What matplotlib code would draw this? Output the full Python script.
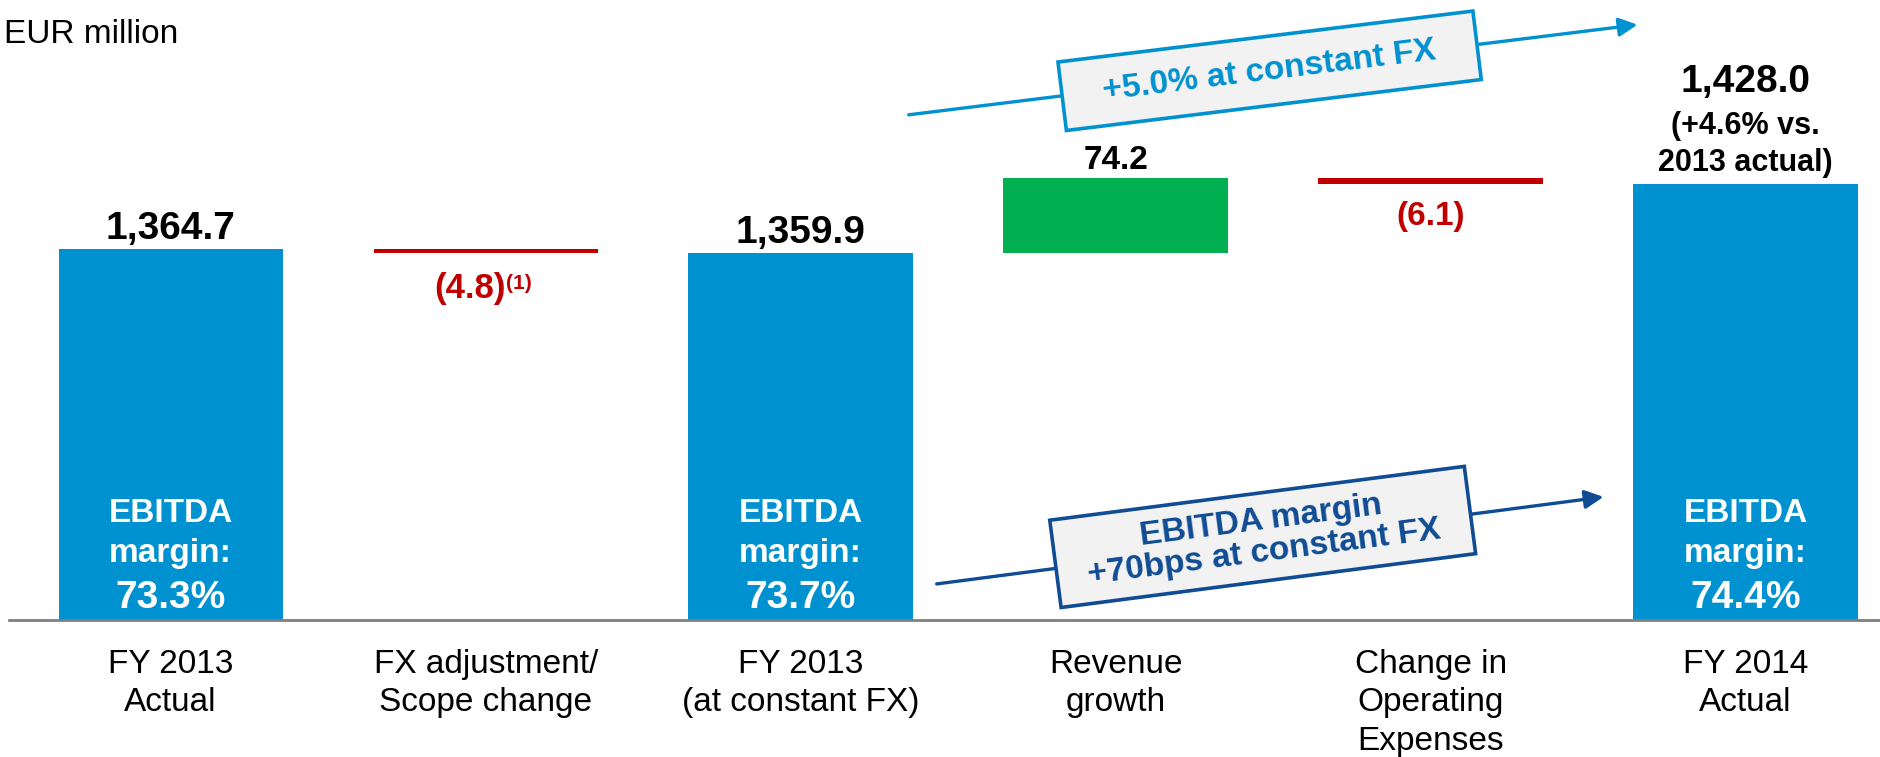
import matplotlib.pyplot as plt
from matplotlib.patches import Rectangle
from matplotlib.transforms import Affine2D, ScaledTranslation

plt.rcParams['font.family'] = ['Liberation Sans', 'DejaVu Sans']

# data
categories = ["FY 2013\nActual", "FX adjustment/\nScope change", "FY 2013\n(at constant FX)",
              "Revenue\ngrowth", "Change in\nOperating\nExpenses", "FY 2014\nActual"]
values = [1364.7, -4.8, 1359.9, 74.2, -6.1, 1428.0]
kinds = ["total", "delta", "total", "delta", "delta", "total"]
value_labels = ["1,364.7", "(4.8)", "1,359.9", "74.2", "(6.1)", "1,428.0"]
margins = ["73.3%", "73.7%", "74.4%"]

BLUE = "#0091D0"
GREEN = "#00B050"
RED = "#C00000"
NAVY = "#0F4C94"

fig = plt.figure(figsize=(18.81, 7.57), dpi=100)
ax = fig.add_axes([0.005, 0.181, 0.995, 0.819])
ymin, ymax = 1001, 1608
ax.set_xlim(-0.512, 5.43)
ax.set_ylim(ymin, ymax)

width = 0.712
running = 0
m = 0
for i, (v, k, lab) in enumerate(zip(values, kinds, value_labels)):
    if k == "total":
        ax.bar(i, v, width=width, color=BLUE, zorder=2)
        running = v
        if i == 5:
            ax.annotate(lab, (i, v), xytext=(0, 92), textcoords="offset pixels",
                        ha="center", va="baseline", fontsize=28, fontweight="bold")
            ax.annotate("(+4.6% vs.", (i, v), xytext=(0, 50), textcoords="offset pixels",
                        ha="center", va="baseline", fontsize=22, fontweight="bold")
            ax.annotate("2013 actual)", (i, v), xytext=(0, 13), textcoords="offset pixels",
                        ha="center", va="baseline", fontsize=22, fontweight="bold")
        else:
            ax.annotate(lab, (i, v), xytext=(0, 10), textcoords="offset pixels",
                        ha="center", va="baseline", fontsize=28, fontweight="bold")
        # margin text inside bar
        ax.annotate("EBITDA", (i, ymin), xytext=(0, 98), textcoords="offset pixels",
                    ha="center", va="baseline", fontsize=24, fontweight="bold", color="white")
        ax.annotate("margin:", (i, ymin), xytext=(0, 58), textcoords="offset pixels",
                    ha="center", va="baseline", fontsize=24, fontweight="bold", color="white")
        ax.annotate(margins[m], (i, ymin), xytext=(0, 12), textcoords="offset pixels",
                    ha="center", va="baseline", fontsize=28, fontweight="bold", color="white")
        m += 1
    else:
        c = GREEN if v > 0 else RED
        ax.bar(i, v, width=width, bottom=running, color=c, zorder=2)
        new = running + v
        if v > 0:
            ax.annotate(lab, (i, new), xytext=(0, 9), textcoords="offset pixels",
                        ha="center", va="baseline", fontsize=24, fontweight="bold")
        elif i == 1:
            ax.annotate(lab, (i, new), xytext=(-16, -45), textcoords="offset pixels",
                        ha="center", va="baseline", fontsize=25, fontweight="bold", color=RED)
            ax.annotate("(1)", (i, new), xytext=(20, -36), textcoords="offset pixels",
                        ha="left", va="baseline", fontsize=15, fontweight="bold", color=RED)
        else:
            ax.annotate(lab, (i, new), xytext=(0, -41), textcoords="offset pixels",
                        ha="center", va="baseline", fontsize=24, fontweight="bold", color=RED)
        running = new


def slanted_box(cx, cy, w, h, angle, text, color, size):
    tr = (Affine2D().rotate_deg(angle) + fig.dpi_scale_trans
          + ScaledTranslation(cx, cy, ax.transData))
    ax.add_patch(Rectangle((-w / 2, -h / 2), w, h, transform=tr, facecolor="#F2F2F2",
                           edgecolor=color, linewidth=2.6, zorder=5))
    ax.text(cx, cy, text, rotation=angle, rotation_mode="anchor", ha="center", va="center",
            fontsize=size, fontweight="bold", color=color, zorder=6, linespacing=1.05)


# growth arrow (top)
ax.annotate("", xy=(4.657, 1583.8), xytext=(2.343, 1495.6),
            arrowprops=dict(arrowstyle="-|>", color=BLUE, lw=2.4, mutation_scale=28,
                            shrinkA=0, shrinkB=0), zorder=4)
slanted_box(3.489, 1538.7, 4.18, 0.69, 7.0, "+5.0% at constant FX", BLUE, 24)

# margin arrow (bottom)
ax.annotate("", xy=(4.549, 1121.5), xytext=(2.432, 1036.3),
            arrowprops=dict(arrowstyle="-|>", color=NAVY, lw=2.4, mutation_scale=28,
                            shrinkA=0, shrinkB=0), zorder=4)
slanted_box(3.467, 1082.3, 4.18, 0.88, 7.4, "EBITDA margin\n+70bps at constant FX", NAVY, 24)

ax.set_xticks(range(len(categories)))
ax.set_xticklabels(categories, fontsize=24, linespacing=1.3)
ax.tick_params(axis="x", length=0, pad=21)
ax.set_yticks([])
for s in ["top", "left", "right"]:
    ax.spines[s].set_visible(False)
ax.spines["bottom"].set_color("#808080")
ax.spines["bottom"].set_linewidth(2)
ax.spines["bottom"].set_zorder(3)

fig.text(0.002, 1 - 43 / 757, "EUR million", fontsize=24, va="baseline")

fig.savefig("out.png", dpi=100)
